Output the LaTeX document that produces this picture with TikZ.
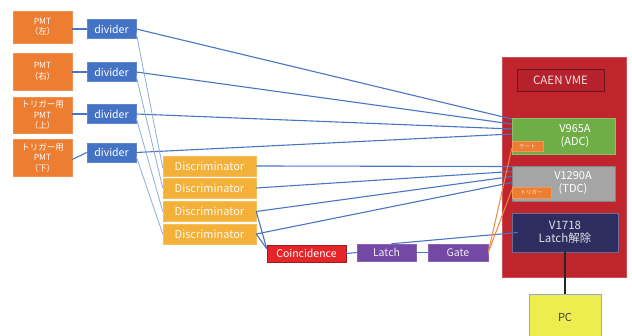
\documentclass[tikz,border=0pt]{standalone}
\usepackage{fontspec}
\setmainfont{Noto Sans CJK JP}
\definecolor{pmtc}{HTML}{ED7D31}
\definecolor{divc}{HTML}{4472C4}
\definecolor{discc}{HTML}{F4B13A}
\definecolor{coinc}{HTML}{E6252B}
\definecolor{purp}{HTML}{7449A6}
\definecolor{vmered}{HTML}{C0252E}
\definecolor{caenf}{HTML}{B5222B}
\definecolor{adcg}{HTML}{6FAD47}
\definecolor{tdcg}{HTML}{A5A5A5}
\definecolor{navy}{HTML}{2D2E5F}
\definecolor{pcy}{HTML}{EDED4F}
\definecolor{lblue}{HTML}{4A74C4}
\definecolor{tblue}{HTML}{8FAADC}
\definecolor{oline}{HTML}{F08A3C}
\begin{document}
\begin{tikzpicture}[x=1pt,y=-1pt,
  box/.style={draw=#1!85!white, fill=#1, line width=0.5pt, inner sep=1pt, align=center, text=white},
  pmt/.style={box=pmtc, minimum width=59pt, font=\fontsize{8.5}{10.5}\selectfont},
  divbox/.style={box=divc, minimum width=49pt, minimum height=19pt, font=\fontsize{10.5}{12}\selectfont},
  discbox/.style={box=discc, minimum width=93pt, minimum height=20pt, text=white!92!discc, font=\fontsize{11}{12}\selectfont},
  purpbox/.style={box=purp, minimum height=17pt, text=white!90!purp, font=\fontsize{10.5}{12}\selectfont},
  modbox/.style={line width=0.5pt, inner sep=0pt},
  modtext/.style={align=center, text=white, font=\fontsize{11}{13}\selectfont},
  tag/.style={fill=pmtc, draw=pmtc!80!white, inner sep=0pt, text=white!85!pmtc, font=\fontsize{5.5}{6}\selectfont},
  sig/.style={draw=lblue, line width=1.1pt},
  tsig/.style={draw=tblue, line width=0.8pt},
  osig/.style={draw=oline, line width=1pt}
]
\useasboundingbox (0,0) rectangle (632,336);

% PMTs
\node[pmt, minimum height=32pt] (p1) at (42.5,27) {PMT\\（左）};
\node[pmt, minimum height=37pt] (p2) at (42.5,71.5) {PMT\\（右）};
\node[pmt, minimum height=36pt] (p3) at (42.5,115) {トリガー用\\PMT\\（上）};
\node[pmt, minimum height=37pt] (p4) at (42.5,157.5) {トリガー用\\PMT\\（下）};

% dividers
\node[divbox] (d1) at (111.5,29) {divider};
\node[divbox] (d2) at (111.5,72) {divider};
\node[divbox] (d3) at (111.5,114) {divider};
\node[divbox] (d4) at (111.5,152.5) {divider};

% discriminators
\node[discbox] (c1) at (209.5,166) {Discriminator};
\node[discbox] (c2) at (209.5,188) {Discriminator};
\node[discbox] (c3) at (209.5,211.5) {Discriminator};
\node[discbox] (c4) at (209.5,234) {Discriminator};

% logic
\node[box=coinc, draw=coinc!70!black, minimum width=79pt, minimum height=17pt, font=\fontsize{10.5}{12}\selectfont] (coin) at (306.5,253.5) {Coincidence};
\node[purpbox, minimum width=59pt] (latch) at (386.5,252.5) {Latch};
\node[purpbox, minimum width=60pt] (gate) at (458,252.5) {Gate};

% VME crate
\node[modbox, fill=vmered, draw=vmered!80!white, minimum width=124pt, minimum height=220pt] (vme) at (564,167) {};
\node[modbox, fill=caenf, draw=caenf!60!black, minimum width=87pt, minimum height=22pt, text=white!85!vmered, font=\fontsize{11.5}{12}\selectfont] (caen) at (560.5,80) {CAEN VME};
\node[modbox, fill=adcg, draw=adcg!80!white, minimum width=103pt, minimum height=36pt] (adc) at (563.5,136) {};
\node[modtext] (adct) at (575,136) {V965A\\(ADC)};
\node[modbox, fill=tdcg, draw=tdcg!80!black, minimum width=103pt, minimum height=35pt] (tdc) at (563.5,183.5) {};
\node[modtext] (tdct) at (573,183.5) {V1290A\\(TDC)};
\node[modbox, fill=navy, draw=navy!70!white, minimum width=106pt, minimum height=39pt] (v1718) at (565,232.5) {};
\node[modtext, text=white!85!navy, font=\fontsize{11.5}{13.5}\selectfont] (v1718t) at (565,232.5) {V1718\\Latch解除};
\node[tag, minimum width=31pt, minimum height=10pt] (gsm) at (527.5,146) {ゲート};
\node[tag, minimum width=39pt, minimum height=11pt] (tsm) at (531.5,192.5) {トリガー};

% PC
\node[modbox, fill=pcy, draw=tblue, minimum width=72pt, minimum height=46pt, text=black!75, font=\fontsize{11}{13}\selectfont] (pc) at (565,317) {PC};

% PMT -> divider
\draw[sig] (p1.east |- d1.west) -- (d1.west);
\draw[sig] (p2.east |- d2.west) -- (d2.west);
\draw[sig] (p3.east |- d3.west) -- (d3.west);
\draw[sig] ([yshift=-2pt]p4.east) -- (d4.west);

% divider -> ADC
\draw[sig] (d1.east) -- ([yshift=17pt]adc.west);
\draw[sig] (d2.east) -- ([yshift=12pt]adc.west);
\draw[sig] (d3.east) -- ([yshift=7pt]adc.west);
\draw[sig] (d4.east) -- ([yshift=2pt]adc.west);

% divider -> discriminator
\draw[tsig] ([yshift=-4pt]d1.east) -- ([yshift=-2pt]c1.west);
\draw[tsig] ([yshift=-4pt]d2.east) -- (c2.west);
\draw[tsig] ([yshift=-4pt]d3.east) -- (c3.west);
\draw[tsig] ([yshift=-4pt]d4.east) -- (c4.west);

% discriminator -> TDC
\draw[sig] (c1.east) -- ([yshift=17pt]tdc.west);
\draw[sig] (c2.east) -- ([yshift=12pt]tdc.west);
\draw[sig] (c3.east) -- ([yshift=7pt]tdc.west);
\draw[sig] (c4.east) -- ([yshift=1pt]tdc.west);

% discriminator -> coincidence
\draw[sig] (c3.east) -- ([yshift=-4pt]coin.north west);
\draw[sig] (c4.east) -- ([yshift=-4pt]coin.north west);

% logic chain
\draw[sig] (coin.east) -- (latch.west);
\draw[sig] (latch.east) -- (gate.west);
\draw[sig] ([xshift=5pt]latch.north) -- ([xshift=6pt]v1718.west);

% gate -> ADC gate / TDC trigger
\draw[osig] (gate.east) -- ([yshift=3pt]gsm.south west);
\draw[osig] (gate.east) -- ([yshift=-3pt]tsm.north west);

% V1718 -> PC
\draw[black!85, line width=1.2pt] (v1718.south) -- (pc.north);
\end{tikzpicture}
\end{document}
